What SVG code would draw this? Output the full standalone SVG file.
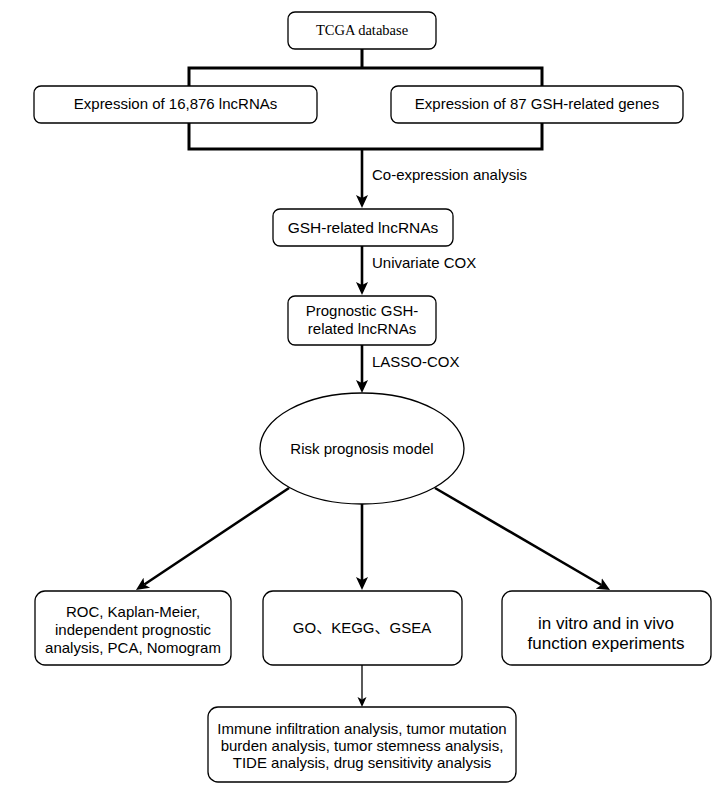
<svg xmlns="http://www.w3.org/2000/svg" width="725" height="794" viewBox="0 0 725 794">
  <style>
    .box { fill: #ffffff; stroke: #000000; stroke-width: 1.3; }
    .t { font-family: "Liberation Sans", Arial, "Noto Sans CJK SC", sans-serif; font-size: 15px; fill: #000000; text-anchor: middle; }
    .lbl { font-family: "Liberation Sans", Arial, sans-serif; font-size: 15px; fill: #000000; text-anchor: start; }
    .serif { font-family: "Liberation Serif", "Times New Roman", serif; font-size: 14.5px; fill: #000000; text-anchor: middle; }
    .big { font-size: 17px; }
    .conn { fill: none; stroke: #000000; stroke-width: 2.6; }
    .thin { fill: none; stroke: #000000; stroke-width: 1.3; }
    .bracket { fill: none; stroke: #000000; stroke-width: 3; }
  </style>
  <defs>
    <marker id="arrow" markerUnits="userSpaceOnUse" markerWidth="14" markerHeight="14" viewBox="0 0 14 14" refX="3" refY="7" orient="auto">
      <path d="M0,1 L13,7 L0,13 L3,7 z" fill="#000000"/>
    </marker>
    <marker id="arrowSmall" markerUnits="userSpaceOnUse" markerWidth="10" markerHeight="10" viewBox="0 0 10 10" refX="2.5" refY="5" orient="auto">
      <path d="M0,0.5 L10,5 L0,9.5 L2.5,5 z" fill="#000000"/>
    </marker>
  </defs>
  <rect width="725" height="794" fill="#ffffff"/>

  <g id="connectors">
    <line class="bracket" x1="362" y1="49" x2="362" y2="68"/>
    <rect class="bracket" x="189" y="68" width="353" height="81"/>
    <line class="conn" x1="362" y1="149" x2="362" y2="198" marker-end="url(#arrow)"/>
    <line class="conn" x1="362" y1="246" x2="362" y2="285" marker-end="url(#arrow)"/>
    <line class="conn" x1="362" y1="345" x2="362" y2="383" marker-end="url(#arrow)"/>
    <line class="conn" x1="289" y1="488" x2="144.3" y2="584.5" marker-end="url(#arrow)"/>
    <line class="conn" x1="362" y1="504" x2="362" y2="580" marker-end="url(#arrow)"/>
    <line class="conn" x1="435" y1="488" x2="601.4" y2="585" marker-end="url(#arrow)"/>
    <line class="thin" x1="362" y1="665" x2="362" y2="699.5" marker-end="url(#arrowSmall)"/>
    <text class="lbl" x="372" y="180">Co-expression analysis</text>
    <text class="lbl" x="372" y="268">Univariate COX</text>
    <text class="lbl" x="372" y="367">LASSO-COX</text>
  </g>

  <g id="tcga">
    <rect class="box" x="288" y="12" width="148" height="37" rx="7"/>
    <text class="serif" x="362" y="35">TCGA database</text>
  </g>
  <g id="lncrnas">
    <rect class="box" x="34" y="86" width="283" height="37" rx="7"/>
    <text class="t" x="175.5" y="109">Expression of 16,876 lncRNAs</text>
  </g>
  <g id="genes">
    <rect class="box" x="391" y="86" width="292" height="37" rx="7"/>
    <text class="t" x="537" y="109">Expression of 87 GSH-related genes</text>
  </g>
  <g id="gsh-lncrnas">
    <rect class="box" x="273" y="209" width="180" height="37" rx="7"/>
    <text class="t" x="363" y="233" style="font-size:15.5px">GSH-related lncRNAs</text>
  </g>
  <g id="prognostic">
    <rect class="box" x="288" y="296" width="148" height="49" rx="7"/>
    <text class="t" x="362" y="316">Prognostic GSH-</text>
    <text class="t" x="362" y="334">related lncRNAs</text>
  </g>
  <g id="model">
    <ellipse class="box" cx="362" cy="448.5" rx="102" ry="55.5"/>
    <text class="t" x="362" y="454">Risk prognosis model</text>
  </g>
  <g id="roc">
    <rect class="box" x="35" y="591" width="196" height="74" rx="10"/>
    <text class="t" x="133" y="617">ROC, Kaplan-Meier,</text>
    <text class="t" x="133" y="635">independent prognostic</text>
    <text class="t" x="133" y="653">analysis, PCA, Nomogram</text>
  </g>
  <g id="go">
    <rect class="box" x="263" y="591" width="199" height="74" rx="10"/>
    <text class="t" x="362" y="633">GO、KEGG、GSEA</text>
  </g>
  <g id="experiments">
    <rect class="box" x="502" y="591" width="209" height="74" rx="10"/>
    <text class="t big" x="606" y="629">in vitro and in vivo</text>
    <text class="t big" x="606" y="649">function experiments</text>
  </g>
  <g id="immune">
    <rect class="box" x="208" y="707" width="308" height="75" rx="10"/>
    <text class="t" x="362" y="734">Immune infiltration analysis, tumor mutation</text>
    <text class="t" x="362" y="751">burden analysis, tumor stemness analysis,</text>
    <text class="t" x="362" y="768">TIDE analysis, drug sensitivity analysis</text>
  </g>
</svg>
